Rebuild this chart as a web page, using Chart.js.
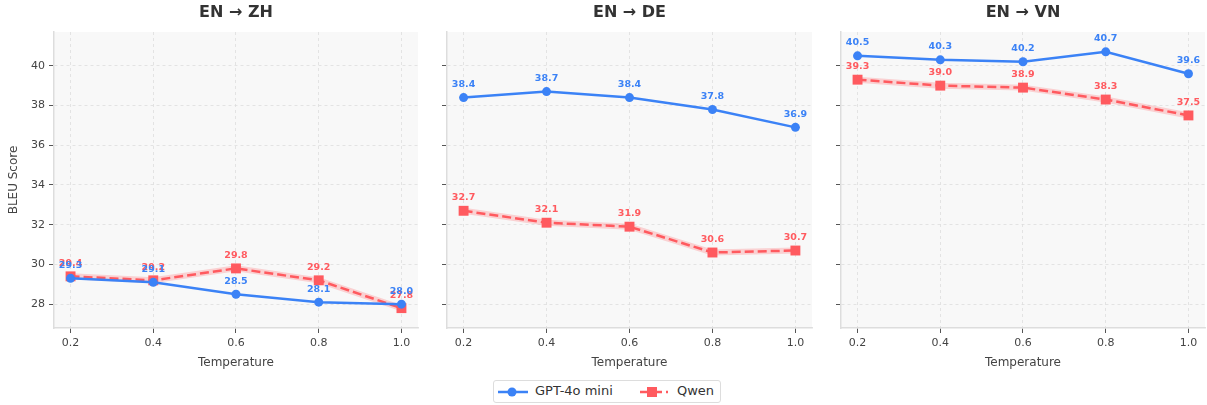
<!DOCTYPE html>
<html>
<head>
<meta charset="utf-8">
<script src="https://cdn.jsdelivr.net/npm/chart.js@4.4.1/dist/chart.umd.min.js"></script>
<style>
  body { margin: 0; background: #fff; width: 1207px; height: 405px; position: relative; overflow: hidden; font-family: "DejaVu Sans", sans-serif; }
  canvas { position: absolute; top: 0; }
  #legend { position: absolute; left: 493px; top: 380px; width: 226px; height: 21px; border: 1px solid #ddd; border-radius: 3px; background: #fff; font-size: 13px; color: #333; }
  #legend svg, #legend span { position: absolute; }
</style>
</head>
<body>
<canvas id="c0" width="430" height="375" style="left:0px"></canvas>
<canvas id="c1" width="395" height="375" style="left:430px"></canvas>
<canvas id="c2" width="392" height="375" style="left:825px"></canvas>
<div id="legend">
  <svg style="left:4px;top:4px" width="30" height="14"><line x1="0" y1="7" x2="30" y2="7" stroke="#3b82f6" stroke-width="2.5"/><circle cx="14" cy="7" r="4.5" fill="#3b82f6"/></svg>
  <span style="left:41px;top:2px">GPT-4o mini</span>
  <svg style="left:146px;top:4px" width="28" height="14"><line x1="0" y1="7" x2="28" y2="7" stroke="#ff5a5f" stroke-width="2.5" stroke-dasharray="9,4"/><rect x="7" y="2" width="10" height="10" fill="#ff5a5f"/></svg>
  <span style="left:183px;top:2px">Qwen</span>
</div>
<script>
const temperatures = [0.2, 0.4, 0.6, 0.8, 1.0];
const panelTitles = ['EN → ZH', 'EN → DE', 'EN → VN'];
const seriesNames = ['GPT-4o mini', 'Qwen'];

const gptZh = [29.3, 29.1, 28.5, 28.1, 28.0];
const gptDe = [38.4, 38.7, 38.4, 37.8, 36.9];
const gptVn = [40.5, 40.3, 40.2, 40.7, 39.6];
const qwenZh = [29.4, 29.2, 29.8, 29.2, 27.8];
const qwenDe = [32.7, 32.1, 31.9, 30.6, 30.7];
const qwenVn = [39.3, 39.0, 38.9, 38.3, 37.5];

const yTicks = [28, 30, 32, 34, 36, 38, 40];

const gptSeries = [gptZh, gptDe, gptVn];
const qwenSeries = [qwenZh, qwenDe, qwenVn];

const BLUE = '#3b82f6';
const RED = '#ff5a5f';

Chart.defaults.font.family = '"DejaVu Sans", sans-serif';

// shared y range: data min/max padded by 1
const allScores = gptSeries.flat().concat(qwenSeries.flat());
const yMin = Math.min(...allScores) - 1;
const yMax = Math.max(...allScores) + 1;

// plot area geometry per canvas
const frames = [
  { axisW: 54, padRight: 12 },
  { axisW: 17, padRight: 13 },
  { axisW: 16, padRight: 12 },
];

const plotBg = {
  id: 'plotBg',
  beforeDraw(chart) {
    const { ctx, chartArea: a } = chart;
    ctx.save();
    ctx.fillStyle = '#f8f8f8';
    ctx.fillRect(a.left, a.top, a.right - a.left, a.bottom - a.top);
    ctx.restore();
  }
};

const pointLabels = {
  id: 'pointLabels',
  afterDatasetsDraw(chart) {
    const ctx = chart.ctx;
    ctx.save();
    ctx.font = 'bold 9.5px "DejaVu Sans"';
    ctx.textAlign = 'center';
    ctx.textBaseline = 'middle';
    for (let i = chart.data.datasets.length - 1; i >= 0; i--) {
      const ds = chart.data.datasets[i];
      if (!ds.labelColor) continue;
      ctx.fillStyle = ds.labelColor;
      chart.getDatasetMeta(i).data.forEach((pt, j) => {
        ctx.fillText(ds.data[j].y.toFixed(1), pt.x, pt.y - 13);
      });
    }
    ctx.restore();
  }
};

function points(values) {
  return temperatures.map((t, i) => ({ x: t, y: values[i] }));
}

panelTitles.forEach((title, p) => {
  const f = frames[p];
  const first = p === 0;
  new Chart(document.getElementById('c' + p), {
    type: 'line',
    data: {
      datasets: [
        {
          label: seriesNames[0], data: points(gptSeries[p]),
          borderColor: BLUE, backgroundColor: BLUE, borderWidth: 2.5,
          pointStyle: 'circle', pointRadius: 4.5, pointBorderWidth: 0,
          labelColor: BLUE
        },
        {
          label: seriesNames[1], data: points(qwenSeries[p]),
          borderColor: RED, backgroundColor: RED, borderWidth: 2.5, borderDash: [9, 4],
          pointStyle: 'rect', pointRadius: 7, pointBorderWidth: 0,
          labelColor: RED
        },
        {
          label: 'halo', data: points(qwenSeries[p]),
          borderColor: 'rgba(255,90,95,0.25)', borderWidth: 6, pointRadius: 0
        }
      ]
    },
    options: {
      responsive: false,
      animation: false,
      layout: { padding: { left: 0, right: f.padRight, top: 0, bottom: 0 } },
      plugins: {
        legend: { display: false },
        tooltip: { enabled: false },
        title: {
          display: true, text: title, fullSize: false, color: '#333',
          font: { size: 16, weight: 'bold', lineHeight: 1.2 },
          padding: { top: 3, bottom: 9.8 }
        }
      },
      scales: {
        x: {
          type: 'linear', min: 0.16, max: 1.04,
          afterBuildTicks: s => { s.ticks = temperatures.map(v => ({ value: v })); },
          afterFit: s => { s.height = 47; },
          ticks: { callback: v => Number(v).toFixed(1), color: '#444', font: { size: 11 }, padding: 4, autoSkip: false, maxRotation: 0 },
          grid: { color: '#dedede', lineWidth: 0.8, tickColor: '#555', tickLength: 5, tickWidth: 1 },
          border: { color: '#dddddd', width: 1.5, dash: [3, 3] },
          title: { display: true, text: 'Temperature', color: '#444', font: { size: 12, lineHeight: 1.2 }, padding: { top: 0, bottom: 5 } }
        },
        y: {
          min: yMin, max: yMax,
          afterBuildTicks: s => { s.ticks = yTicks.map(v => ({ value: v })); },
          afterFit: s => { s.width = f.axisW; },
          ticks: { display: first, color: '#444', font: { size: 11 }, padding: 4 },
          grid: { color: '#dedede', lineWidth: 0.8, tickColor: '#555', tickLength: 5, tickWidth: 1 },
          border: { color: '#dddddd', width: 1.5, dash: [3, 3] },
          title: { display: first, text: 'BLEU Score', color: '#444', font: { size: 12, lineHeight: 1.2 }, padding: { top: 7, bottom: 0 } }
        }
      }
    },
    plugins: [plotBg, pointLabels]
  });
});
</script>
</body>
</html>
